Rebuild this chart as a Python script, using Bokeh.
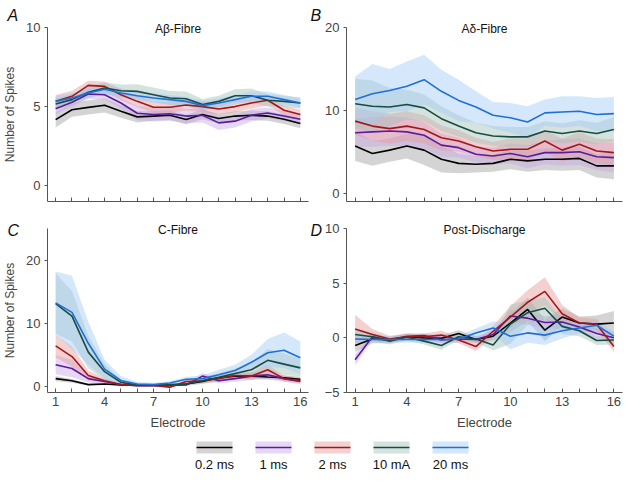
from bokeh.plotting import figure
from bokeh.layouts import column, row
from bokeh.models import Range1d, FixedTicker, Title
from bokeh.embed import file_html
from bokeh.resources import INLINE
from bokeh.core.properties import value

FONT = "Liberation Sans"

electrodes = list(range(1, 17))
labeled_electrodes = [1, 4, 7, 10, 13, 16]
series_labels = ["0.2 ms", "1 ms", "2 ms", "10 mA", "20 ms"]
line_colors = ["#000000", "#5a1c9c", "#a3161a", "#174c43", "#1f6fd6"]
band_colors = ["#a0a0a0", "#c7a7e7", "#e79999", "#a1c1b9", "#a1c9f7"]

# Panel A: A-beta fibre (means, SEM) for 0.2 ms, 1 ms, 2 ms, 10 mA, 20 ms
a_means = [
    [4.18, 4.8, 4.95, 5.08, 4.7, 4.35, 4.4, 4.45, 4.18, 4.5, 4.25, 4.4, 4.45, 4.4, 4.2, 3.93],
    [4.87, 5.27, 5.8, 5.75, 5.23, 4.58, 4.5, 4.55, 4.4, 4.45, 3.97, 4.08, 4.45, 4.6, 4.4, 4.2],
    [5.33, 5.65, 6.34, 6.28, 5.75, 5.33, 4.96, 4.96, 5.1, 5.0, 4.85, 5.0, 5.23, 5.4, 4.77, 4.5],
    [5.17, 5.44, 5.9, 6.17, 6.0, 5.96, 5.75, 5.54, 5.5, 5.13, 5.33, 5.69, 5.69, 5.4, 5.33, 5.23],
    [5.33, 5.54, 5.86, 6.1, 5.86, 5.69, 5.54, 5.44, 5.33, 5.06, 5.23, 5.44, 5.65, 5.65, 5.44, 5.23],
]
a_sems = [
    [0.5, 0.45, 0.45, 0.45, 0.4, 0.35, 0.3, 0.3, 0.3, 0.3, 0.3, 0.3, 0.3, 0.3, 0.3, 0.3],
    [0.35, 0.3, 0.3, 0.3, 0.35, 0.45, 0.45, 0.45, 0.45, 0.45, 0.45, 0.4, 0.4, 0.35, 0.3, 0.3],
    [0.4, 0.35, 0.3, 0.3, 0.35, 0.35, 0.35, 0.35, 0.35, 0.35, 0.35, 0.35, 0.35, 0.35, 0.3, 0.3],
    [0.35, 0.35, 0.35, 0.35, 0.4, 0.45, 0.45, 0.45, 0.45, 0.35, 0.35, 0.4, 0.45, 0.4, 0.35, 0.35],
    [0.35, 0.3, 0.3, 0.3, 0.3, 0.3, 0.3, 0.3, 0.3, 0.3, 0.3, 0.3, 0.3, 0.3, 0.3, 0.3],
]

# Panel B: A-delta fibre
b_means = [
    [5.7, 4.8, 5.2, 5.7, 5.2, 4.1, 3.6, 3.5, 3.6, 4.1, 3.9, 4.1, 4.1, 4.2, 3.3, 3.3],
    [7.3, 7.4, 7.5, 7.4, 7.0, 5.8, 5.5, 4.7, 4.5, 4.8, 4.4, 4.9, 4.9, 5.0, 4.4, 4.3],
    [8.7, 8.1, 7.8, 8.1, 7.7, 6.7, 6.3, 5.6, 5.1, 5.3, 5.3, 6.3, 5.2, 5.9, 5.1, 4.9],
    [10.8, 10.5, 10.4, 10.7, 10.3, 9.0, 8.1, 7.3, 6.9, 6.8, 6.8, 7.5, 7.2, 7.5, 7.2, 7.7],
    [11.3, 12.0, 12.4, 12.9, 13.7, 12.3, 11.2, 10.4, 9.4, 9.1, 8.6, 9.7, 9.8, 9.9, 9.5, 9.6],
]
b_sems = [
    [1.8, 1.5, 1.4, 1.5, 1.8, 1.6, 1.2, 1.0, 1.0, 1.2, 1.3, 1.3, 1.4, 1.4, 1.4, 1.6],
    [1.7, 1.8, 1.8, 1.7, 1.6, 1.4, 1.2, 1.0, 1.0, 1.2, 1.4, 1.4, 1.6, 1.6, 1.6, 1.8],
    [1.6, 1.8, 1.8, 1.8, 1.7, 1.5, 1.3, 1.1, 1.1, 1.3, 1.3, 1.3, 1.4, 1.5, 1.5, 1.6],
    [3.0, 3.1, 2.3, 1.8, 1.6, 1.5, 1.3, 1.2, 1.2, 1.2, 1.2, 1.2, 1.2, 1.3, 1.3, 1.5],
    [2.8, 3.6, 2.6, 3.0, 3.0, 2.6, 2.5, 1.9, 1.6, 1.8, 1.9, 1.6, 1.9, 1.8, 2.0, 2.0],
]

# Panel C: C fibre
c_means = [
    [1.2, 0.85, 0.25, 0.35, 0.2, 0.1, 0.1, 0.2, 0.35, 0.75, 1.35, 1.6, 1.6, 1.45, 1.35, 1.1],
    [3.4, 2.8, 1.2, 0.75, 0.25, 0.1, 0.1, 0.1, 0.2, 1.6, 0.85, 1.2, 1.6, 1.8, 1.2, 0.75],
    [6.4, 4.7, 1.7, 0.85, 0.25, 0.1, 0.1, -0.15, 0.75, 0.85, 1.2, 1.7, 1.6, 2.6, 1.2, 0.85],
    [13.1, 11.1, 5.4, 2.3, 0.6, 0.2, 0.2, 0.25, 0.35, 0.85, 1.4, 2.0, 2.6, 4.1, 3.5, 2.9],
    [13.2, 11.7, 6.8, 2.7, 0.9, 0.35, 0.25, 0.5, 1.1, 1.2, 1.8, 2.5, 3.8, 5.3, 5.7, 4.5],
]
c_sems = [
    [0.4, 0.3, 0.15, 0.15, 0.1, 0.1, 0.1, 0.1, 0.15, 0.3, 0.4, 0.4, 0.4, 0.4, 0.4, 0.4],
    [1.5, 1.4, 0.6, 0.4, 0.2, 0.1, 0.1, 0.1, 0.2, 0.5, 0.4, 0.5, 0.6, 0.7, 0.5, 0.4],
    [1.8, 1.6, 0.8, 0.4, 0.2, 0.1, 0.1, 0.15, 0.3, 0.4, 0.5, 0.5, 0.6, 0.8, 0.5, 0.4],
    [4.8, 4.0, 2.6, 1.2, 0.4, 0.2, 0.2, 0.2, 0.3, 0.5, 0.7, 0.8, 1.0, 1.8, 1.7, 1.4],
    [5.0, 5.8, 3.4, 1.5, 0.7, 0.3, 0.3, 0.3, 0.4, 0.5, 0.8, 0.9, 1.2, 2.2, 2.8, 2.6],
]

# Panel D: post-discharge
d_means = [
    [-0.7, -0.1, -0.2, 0.1, 0.0, -0.05, 0.4, -0.15, 0.15, 1.35, 2.6, 0.7, 1.9, 1.35, 1.25, 1.35],
    [-2.0, 0.1, -0.2, 0.15, 0.2, -0.2, -0.1, -0.15, 0.3, 2.0, 1.8, 1.4, 1.45, 1.0, 0.4, 0.0],
    [0.8, 0.3, -0.1, 0.1, 0.1, 0.25, -0.2, -0.8, 0.6, 1.9, 3.25, 4.25, 2.2, 1.35, 1.25, -0.8],
    [0.3, 0.1, -0.3, 0.05, -0.3, -0.7, 0.1, -0.1, -0.65, 1.25, 2.3, 2.7, 1.05, 0.65, -0.25, -0.2],
    [-0.1, -0.15, -0.15, -0.15, -0.15, -0.15, -0.1, 0.45, 0.9, 0.15, 0.45, 0.25, 0.65, 0.9, 1.15, 0.15],
]
d_sems = [
    [0.6, 0.4, 0.3, 0.3, 0.3, 0.3, 0.3, 0.3, 0.4, 0.8, 1.1, 1.0, 0.8, 0.6, 0.8, 1.1],
    [0.5, 0.3, 0.2, 0.2, 0.2, 0.3, 0.3, 0.3, 0.4, 0.6, 0.6, 0.6, 0.6, 0.5, 0.5, 0.5],
    [1.3, 0.5, 0.3, 0.3, 0.3, 0.4, 0.3, 0.4, 0.5, 1.0, 1.1, 1.3, 0.8, 0.5, 0.5, 0.5],
    [0.5, 0.4, 0.3, 0.3, 0.3, 0.4, 0.3, 0.3, 0.5, 1.8, 1.1, 1.0, 0.7, 0.5, 0.4, 0.4],
    [0.4, 0.3, 0.3, 0.3, 0.3, 0.3, 0.3, 0.4, 0.6, 1.2, 0.9, 0.9, 0.7, 0.5, 0.4, 0.4],
]

panel_letters = ["A", "B", "C", "D"]
panel_titles = ["A\u03b2-Fibre", "A\u03b4-Fibre", "C-Fibre", "Post-Discharge"]
panel_ylims = [(-1, 10), (-1, 20), (-1, 25), (-5, 10)]
panel_yticks = [[0, 5, 10], [0, 10, 20], [0, 10, 20], [-5, 0, 5, 10]]
x_lim = (0.5, 16.5)


def make_panel(idx, means, sems, width, height, left, right, bottom,
               show_xlabels, show_ylabel, letter_offset, letter_standoff, spacer_standoff):
    y0, y1 = panel_ylims[idx]
    p = figure(width=width, height=height, output_backend="svg", toolbar_location=None,
               title=None, x_range=Range1d(*x_lim), y_range=Range1d(y0, y1),
               min_border_left=left, min_border_right=right,
               min_border_top=0, min_border_bottom=bottom)
    p.outline_line_color = None
    p.grid.grid_line_color = None
    p.background_fill_color = "white"
    p.border_fill_color = "white"

    # panel name (closest to frame, centred on the top edge)
    p.add_layout(Title(text=panel_titles[idx], align="center", text_font=FONT,
                       text_font_size="12px", text_font_style="normal",
                       text_color="#111111", standoff=-16), "above")
    # panel letter
    p.add_layout(Title(text=panel_letters[idx], align="left", text_font=FONT,
                       text_font_size="16px", text_font_style="italic",
                       text_color="#111111", offset=letter_offset,
                       standoff=letter_standoff), "above")
    # blank spacer panel to keep room above the letters
    if spacer_standoff is not None:
        p.add_layout(Title(text=" ", align="left", text_font=FONT,
                           text_font_size="16px", standoff=spacer_standoff), "above")

    for m, s, bc in zip(means, sems, band_colors):
        lo = [a - b for a, b in zip(m, s)]
        hi = [a + b for a, b in zip(m, s)]
        p.varea(x=electrodes, y1=lo, y2=hi, fill_color=bc, fill_alpha=0.45)
    for m, lc in zip(means, line_colors):
        p.line(electrodes, m, line_color=lc, line_width=1.6)

    xa = p.xaxis[0]
    xa.ticker = FixedTicker(ticks=electrodes, minor_ticks=[])
    xa.major_label_overrides = {e: (str(e) if (show_xlabels and e in labeled_electrodes) else "")
                                for e in electrodes}
    xa.major_tick_in = 4
    xa.major_tick_out = 0
    xa.minor_tick_line_color = None
    xa.axis_line_color = "#555555"
    xa.major_tick_line_color = "#555555"
    xa.major_label_text_font = FONT
    xa.major_label_text_font_size = "13px"
    xa.major_label_standoff = 4 if show_xlabels else 6
    if show_xlabels:
        xa.axis_label = "Electrode"
        xa.axis_label_text_font = FONT
        xa.axis_label_text_font_size = "13px"
        xa.axis_label_text_font_style = "normal"
        xa.axis_label_standoff = 6

    ya = p.yaxis[0]
    ya.ticker = FixedTicker(ticks=panel_yticks[idx], minor_ticks=[])
    ya.major_tick_in = 0
    ya.major_tick_out = 3
    ya.minor_tick_line_color = None
    ya.axis_line_color = "#555555"
    ya.major_tick_line_color = "#555555"
    ya.major_label_text_font = FONT
    ya.major_label_text_font_size = "13px"
    ya.major_label_standoff = 4
    if show_ylabel:
        ya.axis_label = "Number of Spikes"
        ya.axis_label_text_font = FONT
        ya.axis_label_text_font_size = "12px"
        ya.axis_label_text_font_style = "normal"
        ya.axis_label_standoff = 6
    return p


pa = make_panel(0, a_means, a_sems, 310, 209, 42, 2, 8, False, True, -40, 8, None)
pb = make_panel(1, b_means, b_sems, 316, 209, 36, 4, 8, False, False, -36, 8, None)
pc = make_panel(2, c_means, c_sems, 310, 223, 42, 2, 0, True, True, -40, -20, 0)
pd = make_panel(3, d_means, d_sems, 316, 223, 36, 4, 0, True, False, -36, -20, 0)

# custom legend strip
leg = figure(width=626, height=40, output_backend="svg", toolbar_location=None,
             x_range=Range1d(0, 626), y_range=Range1d(0, 40),
             min_border=0)
leg.axis.visible = False
leg.grid.grid_line_color = None
leg.outline_line_color = None
first_x, step = 214, 59
xs = [first_x + step * i for i in range(len(series_labels))]
leg.rect(x=xs, y=[25] * len(xs), width=36, height=12, fill_color=band_colors,
         fill_alpha=0.45, line_color=None)
leg.segment(x0=[x - 18 for x in xs], x1=[x + 18 for x in xs], y0=[25] * len(xs), y1=[25] * len(xs),
            line_color=line_colors, line_width=1.6)
leg.text(x=xs, y=[8] * len(xs), text=series_labels, text_align="center",
         text_baseline="middle", text_font=value(FONT), text_font_size="13px", text_color="#111111")

layout = column(row(pa, pb), row(pc, pd), leg)

open("out.html", "w").write(file_html(layout, INLINE))
